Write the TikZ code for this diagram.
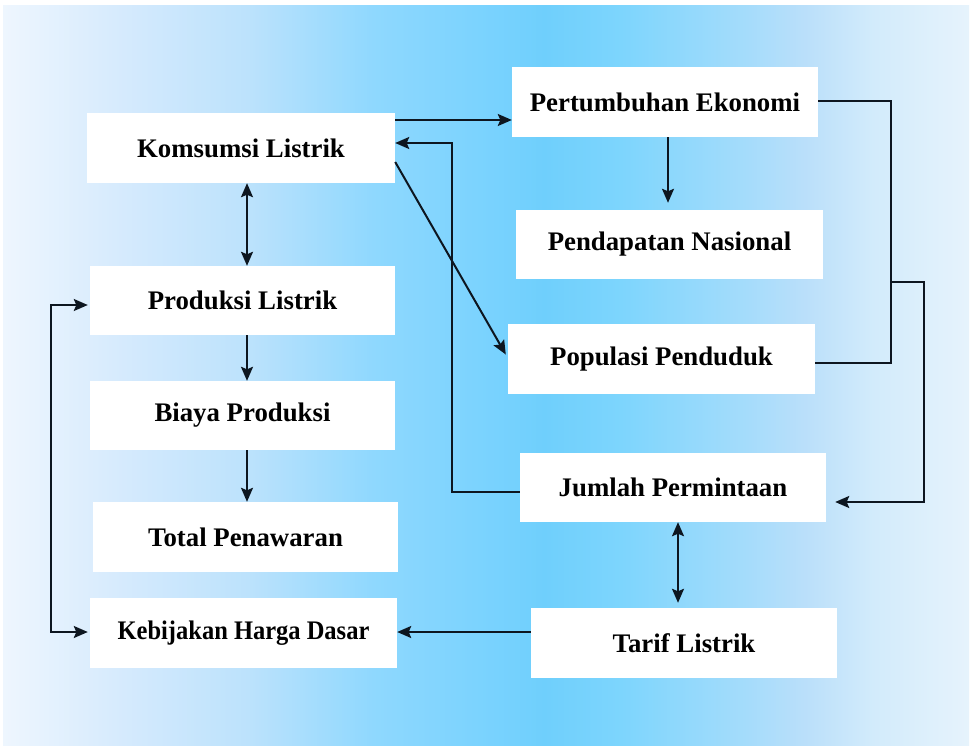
\documentclass[tikz,border=0pt]{standalone}
\usepackage{fontspec}
\setmainfont{Liberation Serif}
\usetikzlibrary{arrows.meta}

% sky band colours, left to right
\definecolor{skyA}{HTML}{EEF6FE}
\definecolor{skyB}{HTML}{D5EAFD}
\definecolor{skyC}{HTML}{BCE2FC}
\definecolor{skyD}{HTML}{8FD8FE}
\definecolor{skyE}{HTML}{78D2FE}
\definecolor{skyF}{HTML}{6FCFFC}
\definecolor{skyG}{HTML}{7DD5FD}
\definecolor{skyH}{HTML}{A5DCFB}
\definecolor{skyI}{HTML}{BADFFA}
\definecolor{skyJ}{HTML}{D2EBFB}
\definecolor{skyK}{HTML}{E6F3FC}
\definecolor{ink}{HTML}{0D1620}

\pgfdeclarehorizontalshading{skyband}{100bp}{%
  color(0bp)=(skyA); color(25bp)=(skyA); color(31.25bp)=(skyB);
  color(37.7bp)=(skyC); color(44.15bp)=(skyD); color(50.5bp)=(skyE);
  color(53bp)=(skyF); color(57bp)=(skyG); color(63.5bp)=(skyH);
  color(66.5bp)=(skyI); color(70bp)=(skyJ); color(75bp)=(skyK);
  color(100bp)=(skyK)}

\begin{document}
\begin{tikzpicture}[x=1pt,y=-1pt,
  box/.style={fill=white, inner sep=0pt, minimum width=306pt, minimum height=70pt,
    font=\fontsize{26.8}{31}\selectfont\bfseries},
  wire/.style={draw=ink, line width=2pt},
  arr/.style={wire, -{Stealth[length=14pt,width=12pt,inset=2.5pt]}},
  dbl/.style={wire, {Stealth[length=14pt,width=12pt,inset=2.5pt]}-{Stealth[length=14pt,width=12pt,inset=2.5pt]}}]

\useasboundingbox (0,0) rectangle (973,749);
\fill[white] (0,0) rectangle (973,749);
\shade[shading=skyband] (3,6) rectangle (969,745);

% left column
\node[box, minimum width=308pt] (kom) at (241,148) {Komsumsi Listrik};
\node[box, minimum width=305pt, minimum height=69pt] (pro) at (242.5,300.5) {Produksi Listrik};
\node[box, minimum width=305pt, minimum height=69pt] (bia) at (242.5,415.5) {Biaya Produksi};
\node[box, minimum width=305pt] (tot) at (245.5,537) {Total Penawaran};
\node[box, minimum width=307pt] (keb) at (243.5,633) {\scalebox{0.914}[1]{Kebijakan Harga Dasar}};

% right column
\node[box] (per) at (665,102) {Pertumbuhan Ekonomi};
\node[box, minimum width=307pt, minimum height=69pt] (pen) at (669.5,244.5) {Pendapatan Nasional};
\node[box, minimum width=307pt] (pop) at (661.5,359) {Populasi Penduduk};
\node[box, minimum height=69pt] (jum) at (673,487.5) {Jumlah Permintaan};
\node[box] (tar) at (684,643) {Tarif Listrik};

% links from consumption
\draw[arr] (kom.east |- 0,120) -- (per.west |- 0,120);
\draw[arr] (jum.west |- 0,492) -| (452,143) -- (kom.east |- 0,143);
\draw[arr, shorten >=4pt] (kom.east |- 0,162) -- (pop.west |- 0,358);
\draw[arr, shorten >=7pt] (per.south -| 668,0) -- (pen.north -| 668,0);

% bracket joining growth and population into demand
\draw[wire] (per.east |- 0,101) -- (891,101) |- (pop.east |- 0,363);
\coordinate (join) at (891,282);
\draw[arr, shorten >=9pt] (join) -- (924,282) |- (jum.east |- 0,502);

% supply chain
\draw[dbl] (kom.south -| 247,0) -- (pro.north -| 247,0);
\draw[arr] (pro.south -| 247,0) -- (bia.north -| 247,0);
\draw[arr] (bia.south -| 247,0) -- (tot.north -| 247,0);
\draw[dbl, shorten <=2pt, shorten >=2pt] (pro.west |- 0,305) -- (51,305) -- (51,632) -- (keb.west |- 0,632);

% tariff links
\draw[arr] (tar.west |- 0,632) -- (keb.east |- 0,632);
\draw[dbl, shorten >=5pt] (jum.south -| 678,0) -- (tar.north -| 678,0);
\end{tikzpicture}
\end{document}
